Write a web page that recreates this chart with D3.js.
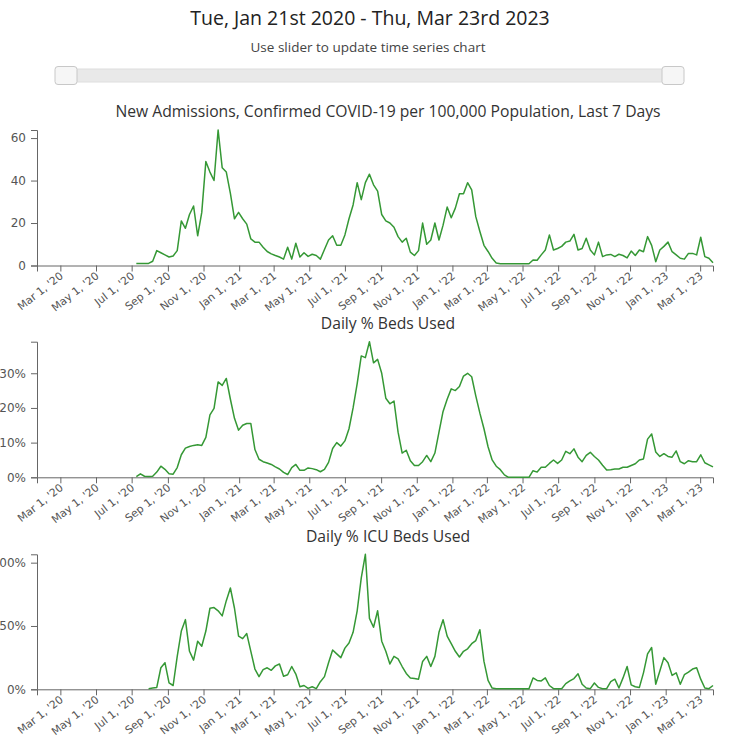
<!DOCTYPE html>
<html><head><meta charset="utf-8">
<script src="https://cdn.jsdelivr.net/npm/d3@7"></script>
<style>
body{margin:0;background:#fff;}
svg{display:block;}
</style></head><body>
<svg id="chart" width="735" height="740"></svg>
<script>
// ---------- data ----------
const rangeStart = "2020-01-21";
const rangeEnd = "2023-03-23";
const firstSample = "2020-07-09";   // weekly samples from here
const sampleStepDays = 7;

const admissions = [
 1,1,1,1,2,7,6,5,4,4.5,
 7,21,17.5,24,28,14,25,49,44,40,
 63.8,46,44,34,22,25,22,19.5,12.5,11,
 11,8.6,6.6,5.5,4.7,4,3,8.6,3,10.5,
 4,6,4.3,5.3,4.7,3,7.5,12,14,9.5,
 9.5,14.4,22,28.5,39,31,39,43,38,35,
 24,21,20,18,13.6,11,12.8,6.3,4.7,7,
 20,10,12,20,12,19,27.5,22.5,27,33.8,
 33.8,39,35.6,23,16,9.5,6.6,3.4,1.2,0.8,
 0.8,0.8,0.8,0.8,0.8,0.8,0.8,2.6,2.5,5,
 7.3,14.4,7.3,8,9,11,11.5,14.7,7.3,8,
 12.8,7.3,5,11,4.2,5,5.2,4.2,5.3,4.7,
 3.6,6.8,4.7,7.3,6.5,13.6,9.5,1.8,7.3,9,
 11,6.5,5,3.4,3,5.7,5.7,5,13.3,4.2,
 3.4,1.3
];
const bedsPct = [
 0.2,1.0,0.3,0.2,0.3,1.5,3.2,2.3,1.0,0.9,
 2.8,6.5,8.4,8.9,9.2,9.4,9.2,11.5,18,19.9,
 27.5,26.5,28.5,22.5,17,13.6,15,15.5,15.5,8,
 5.2,4.5,4.1,3.7,3.0,2.4,1.4,0.8,2.8,3.7,
 2.0,2.0,2.7,2.5,2.2,1.6,2.3,4.3,8.3,10,
 9,10.5,14,20,27,35,34.5,39.1,33,34,
 30,22.8,21.2,22,13,7,7.8,4.8,3.4,3.4,
 4.5,6.3,4.5,7,13,19,22.5,25.5,25,26.2,
 29.2,30,29,23.5,18.5,14,8.8,5,3.2,2.2,
 0.7,0,0,0,0,0,0,1.9,1.5,2.9,
 2.9,4,5,4,5,7.5,6.8,8.2,5.8,4.5,
 6.3,7.2,6,5,3.5,2.1,2.2,2.4,2.4,2.9,
 2.9,3.4,3.9,5,5.3,11,12.5,7.3,6,6.8,
 6,5.8,7.6,4.5,3.9,4.8,4.5,4.5,6.5,4.2,
 3.6,3.0
];
const icuPct = [
 null,null,null,0.5,1,1.5,17,21,5,3,
 26,46,55,30,23,38,34,46,64,64.5,
 62,58,70,80,64,42,40,44,30,16,
 10,15.5,17,15,18.5,20,10.3,11.5,18,12,
 2,3,0.7,2,0.5,6,10,21,31,28,
 25,32.5,36.5,45,62,88,106.6,56,49,62,
 38,30,20,26,24,18,12.5,9,8.6,8,
 22,26,18,26,45,55,42,36,30,25.5,
 30,32,36,38.5,47,22,7,1,0.5,0.5,
 0.5,0.5,0.5,0.5,0.5,0.5,0.5,9,7,6.6,
 9,3,0.5,0.5,0.5,4.5,6.6,8.5,12.2,4,
 1,0.5,5,1.5,0.5,0.5,6,8,1,9,
 18,3.5,2,1.5,13,28,33,4,14.5,25,
 21,11,13,4,11.5,13.5,16,17,8,1,
 0.5,3
];

const ticks1 = [0,20,40,60];
const ticks2 = [0,10,20,30];
const ticks3 = [0,50,100];

const mainTitle = "Tue, Jan 21st 2020 - Thu, Mar 23rd 2023";
const subTitle = "Use slider to update time series chart";
const chartTitles = [
 "New Admissions, Confirmed COVID-19 per 100,000 Population, Last 7 Days",
 "Daily % Beds Used",
 "Daily % ICU Beds Used"
];

// ---------- drawing ----------
const parse = d3.timeParse("%Y-%m-%d");
const t0 = parse(firstSample);
const dates = admissions.map((_, i) => d3.timeDay.offset(t0, i * sampleStepDays));

const svg = d3.select("#chart");

svg.append("text").attr("x", 370).attr("y", 25).attr("text-anchor", "middle")
  .style("font-family", "'Open Sans', sans-serif").style("font-size", "19.5px").attr("fill", "#222")
  .text(mainTitle);
svg.append("text").attr("x", 368).attr("y", 52).attr("text-anchor", "middle")
  .style("font-family", "'Open Sans', sans-serif").style("font-size", "13.5px").attr("fill", "#444")
  .text(subTitle);

// slider
const slider = svg.append("g");
slider.append("rect").attr("x", 64).attr("y", 69).attr("width", 610).attr("height", 13)
  .attr("fill", "#e9e9e9").attr("stroke", "#dedede");
[55, 662].forEach(xp => {
  slider.append("rect").attr("x", xp).attr("y", 66.5).attr("width", 22).attr("height", 18)
    .attr("rx", 3).attr("fill", "#f6f6f6").attr("stroke", "#c8c8c8");
});

const x = d3.scaleTime().domain([parse(rangeStart), parse(rangeEnd)]).range([37, 713]);

function drawChart(values, tickVals, fmt, title, top, bottom, titleY) {
  const y = d3.scaleLinear().domain([0, d3.max(values)]).range([bottom, top]);
  const g = svg.append("g");
  g.append("text").attr("x", 388).attr("y", titleY).attr("text-anchor", "middle")
    .style("font-family", "'Open Sans', sans-serif").style("font-size", "15.7px").attr("fill", "#333")
    .text(title);

  const xa = g.append("g").attr("transform", `translate(0,${bottom})`)
    .call(d3.axisBottom(x).ticks(d3.timeMonth.every(2)).tickFormat(d3.timeFormat("%b %-d, '%y")));
  xa.selectAll("text").attr("text-anchor", "end").attr("dx", "-0.45em").attr("dy", "0.2em")
    .attr("transform", "rotate(-38)");
  const ya = g.append("g").attr("transform", "translate(37,0)")
    .call(d3.axisLeft(y).tickValues(tickVals).tickFormat(fmt).tickPadding(5));
  xa.selectAll("text").style("font-family", "'DejaVu Sans', sans-serif").style("font-size", "10.8px").attr("fill", "#555");
  ya.selectAll("text").style("font-family", "'DejaVu Sans', sans-serif").style("font-size", "12px").attr("fill", "#555");
  [xa, ya].forEach(a => a.selectAll("line,path").attr("stroke", "#666"));

  const line = d3.line().defined(d => d != null).x((d, i) => x(dates[i])).y(d => y(d));
  g.append("path").datum(values).attr("d", line)
    .attr("fill", "none").attr("stroke", "#359835").attr("stroke-width", 1.5)
    .attr("stroke-linejoin", "round");
}

drawChart(admissions, ticks1, d => d, chartTitles[0], 130, 265.5, 117);
drawChart(bedsPct, ticks2, d => d + "%", chartTitles[1], 341.7, 477.3, 329);
drawChart(icuPct, ticks3, d => d + "%", chartTitles[2], 554.3, 689.3, 542);
</script>
</body></html>
